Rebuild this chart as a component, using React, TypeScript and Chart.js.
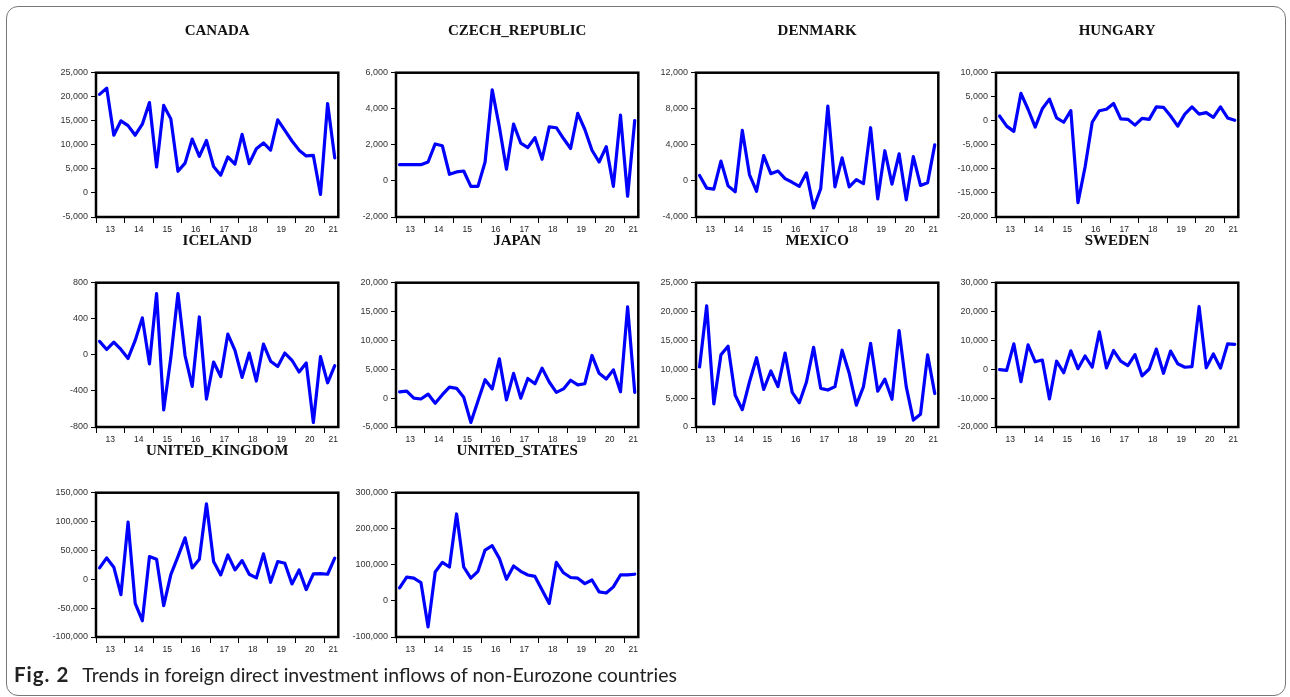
import React, { useEffect, useRef } from "react";
import { Chart, registerables } from "chart.js";

Chart.register(...registerables);

// ---------- data (quarterly, 2013Q1 – 2021Q2) ----------
const countries = [
  "CANADA",
  "CZECH_REPUBLIC",
  "DENMARK",
  "HUNGARY",
  "ICELAND",
  "JAPAN",
  "MEXICO",
  "SWEDEN",
  "UNITED_KINGDOM",
  "UNITED_STATES",
];

const canada = [20500, 21800, 12000, 15000, 14000, 12000, 14300, 18800, 5400, 18200, 15400, 4500, 6200, 11200, 7600, 10900, 5500, 3700, 7500, 6000, 12200, 6100, 9200, 10400, 8900, 15200, 13000, 10800, 8900, 7700, 7800, -300, 18600, 7300];
const czech = [900, 900, 900, 900, 1050, 2050, 1950, 370, 500, 550, -300, -300, 1050, 5050, 3000, 650, 3150, 2100, 1850, 2400, 1200, 3000, 2950, 2350, 1800, 3750, 2850, 1700, 1050, 1900, -300, 3650, -850, 3350];
const denmark = [600, -800, -900, 2200, -550, -1200, 5600, 700, -1150, 2800, 800, 1100, 250, -150, -600, 900, -3000, -850, 8300, -650, 2550, -650, 150, -300, 5900, -2000, 3350, -350, 3000, -2100, 2700, -500, -200, 4000];
const hungary = [1000, -1100, -2200, 5700, 2400, -1300, 2500, 4500, 600, -300, 2100, -17000, -9600, -300, 2100, 2400, 3600, 400, 300, -900, 500, 300, 2900, 2800, 1000, -1100, 1400, 2900, 1400, 1700, 700, 2900, 600, 100];
const iceland = [150, 60, 140, 60, -40, 160, 410, -100, 680, -610, -30, 680, -10, -350, 420, -490, -80, -240, 230, 50, -250, 20, -290, 120, -70, -130, 20, -60, -190, -90, -750, -20, -310, -120];
const japan = [1100, 1200, 0, -150, 700, -900, 600, 1900, 1700, 150, -4200, -500, 3200, 1600, 6800, -300, 4300, 0, 3400, 2500, 5200, 2800, 1000, 1600, 3100, 2300, 2500, 7400, 4300, 3300, 4900, 1100, 15800, 1000];
const mexico = [10400, 21000, 4000, 12500, 14000, 5500, 3000, 7800, 12000, 6500, 9700, 7000, 12800, 6000, 4200, 7800, 13800, 6700, 6400, 7000, 13300, 9300, 3800, 7000, 14500, 6200, 8300, 4800, 16700, 7000, 1200, 2200, 12500, 5800];
const sweden = [-100, -400, 8800, -4300, 8500, 2600, 3200, -10300, 2800, -1200, 6400, 200, 4600, 700, 13000, 500, 6500, 2800, 1300, 5100, -2300, 100, 7000, -1400, 6300, 1900, 700, 900, 21700, 500, 5300, 400, 8800, 8600];
const unitedKingdom = [19700, 37000, 21000, -26600, 99000, -41700, -71800, 39300, 34700, -45700, 8100, 39300, 71800, 19700, 34700, 130800, 30700, 7500, 42200, 16200, 32400, 8700, 2300, 44000, -5200, 30700, 27800, -8100, 16200, -17900, 9300, 9800, 8700, 36500];
const unitedStates = [36000, 66000, 63000, 51000, -72000, 80000, 107000, 94000, 241000, 94000, 63000, 82000, 141000, 153000, 118000, 60000, 97000, 82000, 72000, 68000, 30000, -7000, 107000, 78000, 65000, 63000, 48000, 58000, 25000, 22000, 39000, 72000, 72000, 74000];

const seriesValues = [canada, czech, denmark, hungary, iceland, japan, mexico, sweden, unitedKingdom, unitedStates];

// y-axis ranges
const yMins = [-5000, -2000, -4000, -20000, -800, -5000, 0, -20000, -100000, -100000];
const yMaxs = [25000, 6000, 12000, 10000, 800, 20000, 25000, 30000, 150000, 300000];
const ySteps = [5000, 2000, 4000, 5000, 400, 5000, 5000, 10000, 50000, 100000];

// x-axis: year boundaries (quarters from 2013Q1) and year label positions
const yearTickPos = [0, 4, 8, 12, 16, 20, 24, 28, 32];
const yearLabelPos = [2, 6, 10, 14, 18, 22, 26, 30, 33.3];
const yearLabels = ["13", "14", "15", "16", "17", "18", "19", "20", "21"];

const CANVAS_W = 300;
const CANVAS_H = 232;

const framePlugin = {
  id: "frame",
  afterDraw(chart: any) {
    const { ctx, chartArea } = chart;
    ctx.save();
    ctx.strokeStyle = "#000";
    ctx.lineWidth = 2.5;
    ctx.strokeRect(chartArea.left, chartArea.top, chartArea.right - chartArea.left, chartArea.bottom - chartArea.top);
    ctx.restore();
  },
};

function Panel({ idx }: { idx: number }) {
  const ref = useRef<HTMLCanvasElement | null>(null);
  useEffect(() => {
    if (!ref.current) return;
    const values = seriesValues[idx];
    const pts = values.map((v, i) => ({ x: i + 0.5, y: v }));
    const allTicks = [...yearTickPos, ...yearLabelPos].sort((a, b) => a - b);
    const chart = new Chart(ref.current, {
      type: "line",
      data: {
        datasets: [
          {
            data: pts,
            borderColor: "#0000FF",
            borderWidth: 3.2,
            borderJoinStyle: "round",
            borderCapStyle: "round",
            pointRadius: 0,
            tension: 0,
            fill: false,
          },
        ],
      },
      options: {
        animation: false,
        responsive: false,
        events: [],
        layout: { padding: { left: 0, right: 11.7, top: 0, bottom: 0 } },
        plugins: {
          legend: { display: false },
          tooltip: { enabled: false },
          title: {
            display: true,
            text: countries[idx],
            fullSize: false,
            color: "#111",
            font: { family: "'Liberation Serif', 'Times New Roman', serif", weight: "bold", size: 15 },
            padding: { top: 7, bottom: 32.7 },
          },
        },
        scales: {
          x: {
            type: "linear",
            min: 0,
            max: 34,
            afterBuildTicks: (axis: any) => {
              axis.ticks = allTicks.map((v) => ({ value: v }));
            },
            afterFit: (s: any) => {
              s.height = 30;
            },
            ticks: {
              autoSkip: false,
              maxRotation: 0,
              padding: 2,
              color: "#222",
              font: { family: "'Liberation Sans', Arial, sans-serif", size: 8.5 },
              callback: (v: any) => {
                const k = yearLabelPos.indexOf(Number(v));
                return k >= 0 ? yearLabels[k] : "";
              },
            },
            grid: {
              display: true,
              drawOnChartArea: false,
              drawTicks: true,
              tickLength: 6,
              tickWidth: 1,
              tickColor: (ctx: any) =>
                ctx.tick && yearTickPos.indexOf(ctx.tick.value) >= 0 ? "#000" : "rgba(0,0,0,0)",
            },
            border: { display: false },
          },
          y: {
            type: "linear",
            min: yMins[idx],
            max: yMaxs[idx],
            afterFit: (s: any) => {
              s.width = 46;
            },
            ticks: {
              stepSize: ySteps[idx],
              padding: 3,
              color: "#333",
              font: { family: "'Liberation Sans', Arial, sans-serif", size: 9 },
              callback: (v: any) => Number(v).toLocaleString("en-US"),
            },
            grid: {
              display: true,
              drawOnChartArea: false,
              drawTicks: true,
              tickLength: 5,
              tickWidth: 1,
              tickColor: "#000",
            },
            border: { display: false },
          },
        },
      } as any,
      plugins: [framePlugin],
    });
    return () => chart.destroy();
  }, [idx]);

  const col = idx % 4;
  const row = Math.floor(idx / 4);
  return (
    <div style={{ position: "absolute", left: 50 + 300 * col, top: 15 + 210 * row, width: CANVAS_W, height: CANVAS_H }}>
      <canvas ref={ref} width={CANVAS_W} height={CANVAS_H} style={{ display: "block" }} />
    </div>
  );
}

export default function App() {
  return (
    <div style={{ position: "fixed", left: 0, top: 0, width: 1290, height: 697, background: "#fff", overflow: "hidden" }}>
      <div
        style={{
          position: "absolute",
          left: 6,
          top: 6,
          width: 1278,
          height: 688,
          border: "1.3px solid #777",
          borderRadius: 12,
        }}
      />
      {countries.map((_, i) => (
        <Panel key={i} idx={i} />
      ))}
      <div
        style={{
          position: "absolute",
          left: 14,
          top: 662,
          fontFamily: "Lato, 'Open Sans', sans-serif",
          fontSize: 19.5,
          color: "#222",
          whiteSpace: "nowrap",
        }}
      >
        <span style={{ fontWeight: "bold", fontSize: 20.5, letterSpacing: 1 }}>Fig. 2</span>
        <span style={{ marginLeft: 13 }}>Trends in foreign direct investment inflows of non-Eurozone countries</span>
      </div>
    </div>
  );
}
